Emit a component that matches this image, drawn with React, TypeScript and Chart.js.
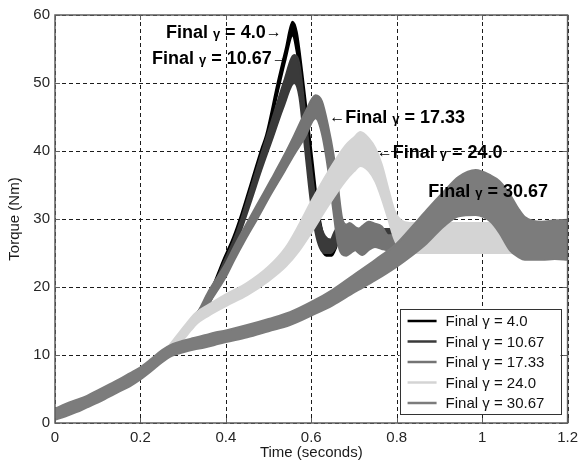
import React, { useEffect, useRef } from 'react';
import { Chart, registerables } from 'chart.js';

Chart.register(...registerables);

const FONT = "'Liberation Sans', Arial, Helvetica, sans-serif";

// ---------- axes ----------
const xTicks = [0, 0.2, 0.4, 0.6, 0.8, 1, 1.2];
const yTicks = [0, 10, 20, 30, 40, 50, 60];
const xTitle = 'Time (seconds)';
const yTitle = 'Torque (Nm)';

// ---------- series ----------
const seriesLabels = ['Final γ = 4.0', 'Final γ = 10.67', 'Final γ = 17.33', 'Final γ = 24.0', 'Final γ = 30.67'];
const seriesColors = ['#000000', '#3a3a3a', '#747474', '#d4d4d4', '#7c7c7c'];

// Each series is an oscillating band: lower / upper envelopes of torque (Nm) vs time (s)
// Final γ = 4.0
const g40X = [0.3, 0.33, 0.36, 0.394, 0.417, 0.436, 0.46, 0.483, 0.494, 0.521, 0.54, 0.556, 0.566, 0.579, 0.592, 0.603, 0.613, 0.623, 0.635, 0.648, 0.657, 0.665, 0.68, 1.2];
const g40Lo = [12.8, 15.0, 17.6, 22.9, 26.1, 29.4, 34.4, 39.2, 41.2, 48.5, 53.5, 57.0, 54.5, 48.0, 40.5, 34.0, 29.0, 25.8, 24.6, 24.6, 25.6, 27.0, 26.5, 26.5];
const g40Hi = [13.8, 16.0, 18.8, 24.0, 27.3, 30.7, 35.6, 40.3, 42.3, 50.0, 55.0, 59.0, 57.5, 51.5, 44.5, 38.5, 33.0, 29.0, 26.4, 25.8, 27.5, 29.0, 28.5, 28.5];

// Final γ = 10.67
const g1067X = [0.3, 0.33, 0.36, 0.394, 0.417, 0.436, 0.46, 0.483, 0.51, 0.535, 0.56, 0.572, 0.585, 0.598, 0.61, 0.62, 0.632, 0.645, 0.655, 0.665, 0.68, 0.75, 1.2];
const g1067Lo = [12.6, 14.8, 17.4, 22.3, 25.3, 28.4, 32.8, 37.2, 42.0, 46.5, 50.0, 48.0, 40.5, 33.0, 28.0, 25.8, 25.0, 25.0, 25.6, 26.8, 26.5, 26.0, 26.0];
const g1067Hi = [13.6, 15.8, 18.4, 23.5, 26.7, 30.0, 34.9, 39.6, 45.0, 50.0, 54.1, 52.8, 46.0, 38.5, 32.8, 29.5, 27.5, 27.0, 28.2, 29.0, 28.5, 28.5, 28.5];

// Final γ = 17.33
const g1733X = [0.3, 0.33, 0.36, 0.4, 0.42, 0.444, 0.475, 0.506, 0.537, 0.56, 0.585, 0.61, 0.625, 0.64, 0.652, 0.662, 0.672, 0.682, 0.69, 0.703, 0.711, 0.72, 0.734, 0.749, 0.765, 0.78, 0.8, 0.9, 1.2];
const g1733Lo = [12.6, 14.8, 17.6, 21.5, 24.0, 26.8, 30.2, 33.7, 37.0, 39.5, 42.0, 44.8, 42.5, 37.0, 31.0, 26.5, 24.8, 24.6, 24.9, 25.4, 25.0, 24.7, 25.4, 25.9, 25.6, 25.4, 25.5, 25.5, 25.5];
const g1733Hi = [13.6, 15.8, 19.4, 23.5, 26.0, 28.8, 32.3, 35.8, 39.4, 42.3, 45.6, 48.2, 47.3, 43.5, 39.5, 35.0, 30.2, 29.2, 29.4, 28.8, 28.6, 29.0, 29.6, 29.3, 28.9, 27.6, 27.6, 28.0, 28.0];

// Final γ = 24.0
const g240X = [0.26, 0.285, 0.31, 0.33, 0.36, 0.4, 0.45, 0.5, 0.54, 0.57, 0.6, 0.64, 0.68, 0.7, 0.715, 0.735, 0.75, 0.765, 0.78, 0.795, 0.81, 0.83, 0.9, 1.0, 1.1, 1.2];
const g240Lo = [9.6, 11.2, 13.0, 14.5, 15.8, 17.2, 18.8, 20.9, 23.0, 25.2, 28.0, 32.0, 35.6, 37.0, 37.8, 37.0, 35.5, 33.0, 30.0, 27.0, 25.2, 25.0, 25.0, 25.0, 25.0, 25.0];
const g240Hi = [10.8, 12.8, 14.8, 16.2, 17.4, 18.9, 20.6, 23.0, 25.8, 29.0, 32.6, 37.0, 40.8, 42.0, 42.8, 41.8, 40.4, 38.0, 34.5, 31.2, 29.8, 29.4, 29.4, 29.4, 29.4, 29.4];

// Final γ = 30.67
const g3067X = [0, 0.025, 0.05, 0.075, 0.1, 0.125, 0.15, 0.175, 0.2, 0.225, 0.25, 0.275, 0.3, 0.325, 0.35, 0.375, 0.4, 0.45, 0.5, 0.55, 0.6, 0.65, 0.7, 0.75, 0.8, 0.835, 0.87, 0.91, 0.945, 0.985, 1.02, 1.04, 1.065, 1.085, 1.1, 1.14, 1.17, 1.2];
const g3067Lo = [0.5, 1.0, 1.6, 2.3, 3.0, 3.8, 4.6, 5.4, 6.4, 7.6, 8.9, 9.9, 10.4, 10.8, 11.1, 11.5, 11.9, 12.6, 13.5, 14.4, 15.8, 17.3, 19.2, 21.0, 23.0, 24.6, 26.4, 28.9, 30.4, 30.6, 29.6, 28.0, 25.4, 24.4, 24.0, 24.0, 24.1, 24.0];
const g3067Hi = [2.1, 2.8, 3.4, 4.0, 4.8, 5.6, 6.4, 7.3, 8.2, 9.4, 10.7, 11.6, 12.1, 12.5, 12.9, 13.3, 13.6, 14.4, 15.3, 16.3, 17.8, 19.6, 21.8, 24.0, 26.4, 28.8, 31.3, 34.0, 36.2, 37.2, 36.4, 35.6, 33.6, 31.5, 30.3, 29.6, 29.8, 29.9];

// ---------- in-plot labels (anchored in data coordinates) ----------
const annLabels = ['Final γ = 4.0', 'Final γ = 10.67', 'Final γ = 17.33', 'Final γ = 24.0', 'Final γ = 30.67'];
const annX = [0.2596, 0.2271, 0.642, 0.753, 0.8737];
const annY = [56.6, 52.8, 44.1, 39.0, 33.2];
const annArrow = ['right', 'right', 'left', 'left', 'none'];

const bands = [
  { x: g3067X, lo: g3067Lo, hi: g3067Hi, s: 4 },
  { x: g240X, lo: g240Lo, hi: g240Hi, s: 3 },
  { x: g1733X, lo: g1733Lo, hi: g1733Hi, s: 2 },
  { x: g1067X, lo: g1067Lo, hi: g1067Hi, s: 1 },
  { x: g40X, lo: g40Lo, hi: g40Hi, s: 0 },
];

function pts(xs: number[], ys: number[]) {
  return xs.map((x, i) => ({ x, y: ys[i] }));
}

const matlabPlugin = {
  id: 'matlabLook',
  beforeDatasetsDraw(chart: any) {
    const { ctx, chartArea: a, scales } = chart;
    const xs = scales.x, ys = scales.y;
    ctx.save();
    ctx.strokeStyle = '#1c1c1c';
    ctx.lineWidth = 1;
    ctx.setLineDash([4, 3]);
    xs.ticks.forEach((t: any) => {
      const p = Math.round(xs.getPixelForValue(t.value)) + 0.5;
      ctx.beginPath(); ctx.moveTo(p, a.top); ctx.lineTo(p, a.bottom); ctx.stroke();
    });
    ys.ticks.forEach((t: any) => {
      const p = Math.round(ys.getPixelForValue(t.value)) + 0.5;
      ctx.beginPath(); ctx.moveTo(a.left, p); ctx.lineTo(a.right, p); ctx.stroke();
    });
    ctx.restore();
  },
  afterDatasetsDraw(chart: any) {
    const { ctx, chartArea: a, scales } = chart;
    const xs = scales.x, ys = scales.y;
    ctx.save();
    // frame
    ctx.setLineDash([]);
    ctx.strokeStyle = '#5e5e5e';
    ctx.lineWidth = 1.5;
    ctx.strokeRect(a.left, a.top, a.right - a.left, a.bottom - a.top);
    // inward tick marks
    ctx.lineWidth = 1;
    const tl = 5;
    xs.ticks.forEach((t: any) => {
      const p = Math.round(xs.getPixelForValue(t.value)) + 0.5;
      ctx.beginPath(); ctx.moveTo(p, a.bottom); ctx.lineTo(p, a.bottom - tl);
      ctx.moveTo(p, a.top); ctx.lineTo(p, a.top + tl); ctx.stroke();
    });
    ys.ticks.forEach((t: any) => {
      const p = Math.round(ys.getPixelForValue(t.value)) + 0.5;
      ctx.beginPath(); ctx.moveTo(a.left, p); ctx.lineTo(a.left + tl, p);
      ctx.moveTo(a.right, p); ctx.lineTo(a.right - tl, p); ctx.stroke();
    });

    // legend box (lower right, inside plot)
    const lx = a.right - 168, ly = a.bottom - 114, lw = 161, lh = 105;
    ctx.fillStyle = '#ffffff';
    ctx.fillRect(lx, ly, lw, lh);
    ctx.strokeStyle = '#333333';
    ctx.lineWidth = 1;
    ctx.strokeRect(Math.round(lx) + 0.5, Math.round(ly) + 0.5, lw, lh);
    ctx.font = `15px ${FONT}`;
    ctx.textBaseline = 'middle';
    ctx.textAlign = 'left';
    seriesLabels.forEach((lab, i) => {
      const ry = ly + 12 + i * 20.5;
      ctx.strokeStyle = seriesColors[i];
      ctx.lineWidth = 2.5;
      ctx.beginPath(); ctx.moveTo(lx + 8, ry); ctx.lineTo(lx + 37, ry); ctx.stroke();
      ctx.fillStyle = '#111111';
      ctx.fillText(lab, lx + 46, ry + 1);
    });

    // annotations
    ctx.textBaseline = 'alphabetic';
    ctx.fillStyle = '#000000';
    annLabels.forEach((lab, i) => {
      let px = xs.getPixelForValue(annX[i]);
      const py = ys.getPixelForValue(annY[i]);
      const arrowFont = `16px ${FONT}`;
      if (annArrow[i] === 'left') {
        ctx.font = arrowFont;
        ctx.fillText('←', px, py - 1);
        px += ctx.measureText('←').width;
      }
      const k = lab.indexOf('γ');
      const parts = [
        { t: lab.slice(0, k), f: `bold 18px ${FONT}` },
        { t: 'γ', f: `bold 13px ${FONT}` },
        { t: lab.slice(k + 1), f: `bold 18px ${FONT}` },
      ];
      parts.forEach((p) => {
        ctx.font = p.f;
        ctx.fillText(p.t, px, py);
        px += ctx.measureText(p.t).width;
      });
      if (annArrow[i] === 'right') {
        ctx.font = arrowFont;
        ctx.fillText('→', px, py - 1);
      }
    });
    ctx.restore();
  },
};

export default function App() {
  const ref = useRef<HTMLCanvasElement | null>(null);

  useEffect(() => {
    if (!ref.current) return;
    const datasets: any[] = [];
    bands.forEach((b) => {
      const c = seriesColors[b.s];
      datasets.push({
        label: seriesLabels[b.s],
        data: pts(b.x, b.hi),
        borderColor: c,
        backgroundColor: c,
        borderWidth: 2,
        pointRadius: 0,
        fill: '+1',
        cubicInterpolationMode: 'monotone',
      });
      datasets.push({
        label: seriesLabels[b.s] + ' (lower)',
        data: pts(b.x, b.lo),
        borderColor: c,
        backgroundColor: c,
        borderWidth: 2,
        pointRadius: 0,
        fill: false,
        cubicInterpolationMode: 'monotone',
      });
    });

    const chart = new Chart(ref.current, {
      type: 'line',
      data: { datasets },
      options: {
        animation: false,
        responsive: true,
        maintainAspectRatio: false,
        devicePixelRatio: 1,
        layout: { padding: { top: 15, right: 11, left: 0, bottom: 0 } },
        plugins: {
          legend: { display: false },
          tooltip: { enabled: false },
          filler: { propagate: false },
        },
        scales: {
          x: {
            type: 'linear',
            min: 0,
            max: 1.2,
            afterBuildTicks: (s: any) => { s.ticks = xTicks.map((v) => ({ value: v })); },
            afterFit: (s: any) => { s.height = 43; },
            grid: { display: false, drawTicks: false },
            border: { display: false },
            ticks: {
              padding: 6,
              color: '#262626',
              font: { family: FONT, size: 15 },
              maxRotation: 0,
              callback: (v: any) => String(Number(Number(v).toFixed(1))),
            },
            title: {
              display: true,
              text: xTitle,
              color: '#1a1a1a',
              font: { family: FONT, size: 15 },
              padding: { top: 0, bottom: 4 },
            },
          },
          y: {
            type: 'linear',
            min: 0,
            max: 60,
            afterBuildTicks: (s: any) => { s.ticks = yTicks.map((v) => ({ value: v })); },
            afterFit: (s: any) => { s.width = 55; },
            grid: { display: false, drawTicks: false },
            border: { display: false },
            ticks: {
              padding: 5,
              color: '#262626',
              font: { family: FONT, size: 15 },
              callback: (v: any) => String(v),
            },
            title: {
              display: true,
              text: yTitle,
              color: '#1a1a1a',
              font: { family: FONT, size: 15 },
              padding: { top: 6, bottom: 0 },
            },
          },
        },
      },
      plugins: [matlabPlugin],
    } as any);

    return () => chart.destroy();
  }, []);

  return (
    <div style={{ position: 'absolute', left: 0, top: 0, width: 584, height: 466, background: '#ffffff' }}>
      <canvas ref={ref} />
    </div>
  );
}
